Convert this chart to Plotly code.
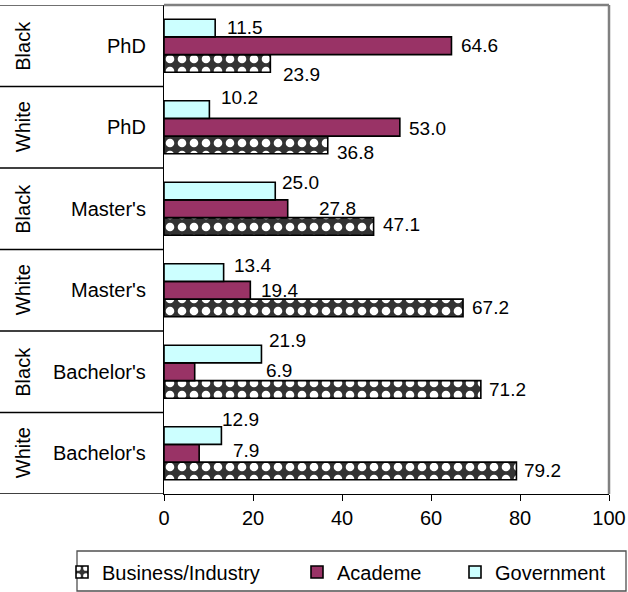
import plotly.graph_objects as go

groups = ["White", "Black", "White", "Black", "White", "Black"]
degrees = ["Bachelor's", "Bachelor's", "Master's", "Master's", "PhD", "PhD"]
cats = [f"{g} {d}" for g, d in zip(groups, degrees)]

business = [79.2, 71.2, 67.2, 47.1, 36.8, 23.9]
academe = [7.9, 6.9, 19.4, 27.8, 53.0, 64.6]
government = [12.9, 21.9, 13.4, 25.0, 10.2, 11.5]

x_ticks = [0, 20, 40, 60, 80, 100]

# label placement styles (pixel offsets from bar end / bar centre, as in the original)
gov_dx = [1, 8, 10, 7, 12, 12]
gov_dy = [16.5, 13.5, 7.5, 8.5, 12, 1]
aca_dx = [34, 71, 11, 31, 9, 10]
aca_dy = [2.5, 1.5, 0, 0, -1.5, 0]
bus_dx = [8, 8, 9, 9, 9, 13]
bus_dy = [0, 0, 0, 1.5, -7.5, -11]

FONT = "Liberation Sans, Arial, sans-serif"
FS = 20
FS_LBL = 19

L, R, T, B = 164, 19, 5, 98
PW = 628 - L - R
PH = 592 - T - B
BARGAP = 0.35

fig = go.Figure()
fig.add_trace(go.Bar(name="Business/Industry", x=business, y=cats, orientation="h",
                     legend="legend",
                     marker=dict(color="#333333", line=dict(color="black", width=1.6),
                                 pattern=dict(shape=".", fgcolor="white", bgcolor="#333333",
                                              fgopacity=1, size=12, solidity=0.4))))
fig.add_trace(go.Bar(name="Academe", x=academe, y=cats, orientation="h", legend="legend2",
                     marker=dict(color="#993366", line=dict(color="black", width=1.6))))
fig.add_trace(go.Bar(name="Government", x=government, y=cats, orientation="h", legend="legend3",
                     marker=dict(color="#CCFFFF", line=dict(color="black", width=1.6))))

def px_x(px):
    return (px - L) / PW

def px_y(py):
    return (592 - B - py) / PH

group_px = PH / len(cats)
bar_px = group_px * (1 - BARGAP) / 3

annotations = []
for vals, dxs, dys, off in [(government, gov_dx, gov_dy, bar_px),
                            (academe, aca_dx, aca_dy, 0.0),
                            (business, bus_dx, bus_dy, -bar_px)]:
    for i, v in enumerate(vals):
        annotations.append(dict(xref="x", yref="y", x=v, y=cats[i], text=f"{v:.1f}",
                                xanchor="left", yanchor="middle", showarrow=False,
                                xshift=dxs[i] - 2, yshift=off + dys[i],
                                font=dict(family=FONT, size=FS_LBL, color="black")))

for i, (g, d) in enumerate(zip(groups, degrees)):
    annotations.append(dict(xref="paper", yref="y", x=px_x(148), y=cats[i], text=d,
                            xanchor="right", yanchor="middle", showarrow=False,
                            font=dict(family=FONT, size=FS, color="black")))
    annotations.append(dict(xref="paper", yref="y", x=px_x(23), y=cats[i], text=g,
                            textangle=-90, xanchor="center", yanchor="middle", showarrow=False,
                            font=dict(family=FONT, size=FS, color="black")))

shapes = []
for i in range(len(cats) + 1):
    shapes.append(dict(type="line", xref="paper", yref="y", x0=px_x(0), x1=0,
                       y0=i - 0.5, y1=i - 0.5,
                       line=dict(color="#404040" if i == len(cats) else "black", width=1.3)))
shapes.append(dict(type="line", xref="paper", yref="paper", x0=0, x1=1, y0=1, y1=1,
                   line=dict(color="#808080", width=2.5)))
shapes.append(dict(type="line", xref="paper", yref="paper", x0=1, x1=1, y0=0, y1=1,
                   line=dict(color="#808080", width=2.5)))
# legend frame
shapes.append(dict(type="rect", xref="paper", yref="paper", x0=px_x(77), x1=px_x(626),
                   y0=px_y(591), y1=px_y(551), line=dict(color="#505050", width=1.3),
                   fillcolor="rgba(0,0,0,0)"))

leg_common = dict(orientation="h", y=px_y(572), yanchor="middle", xanchor="left",
                  borderwidth=0, bgcolor="rgba(0,0,0,0)",
                  font=dict(family=FONT, size=FS, color="black"))

fig.update_layout(
    width=628, height=592,
    margin=dict(l=L, r=R, t=T, b=B, autoexpand=False),
    paper_bgcolor="white", plot_bgcolor="white",
    barmode="group", bargap=BARGAP, bargroupgap=0,
    font=dict(family=FONT, size=FS, color="black"),
    xaxis=dict(range=[0, 100], tickvals=x_ticks, showgrid=False, zeroline=False,
               showline=True, linecolor="black", linewidth=1.3,
               ticks="outside", ticklen=6, tickcolor="black", tickwidth=1.3,
               tickfont=dict(family=FONT, size=FS, color="black")),
    yaxis=dict(categoryorder="array", categoryarray=cats, range=[-0.5, 5.5],
               showticklabels=False, showgrid=False, zeroline=False,
               showline=True, linecolor="black", linewidth=1.3, ticks=""),
    shapes=shapes, annotations=annotations,
    showlegend=True,
    legend=dict(x=px_x(62), **leg_common),
    legend2=dict(x=px_x(297), **leg_common),
    legend3=dict(x=px_x(455), **leg_common),
)

fig.write_html("out.html", config={"displayModeBar": False},
               post_script="document.body.style.margin='0';document.body.style.overflow='hidden';")
